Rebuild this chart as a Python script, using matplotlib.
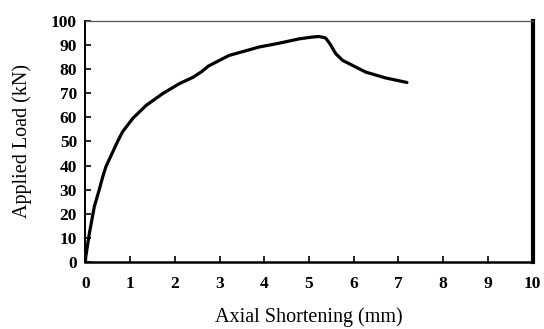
import numpy as np
import matplotlib.pyplot as plt

# axial shortening (mm) vs applied load (kN)
shortening = [0.0, 0.01, 0.09, 0.2, 0.31, 0.39, 0.46, 0.61, 0.72, 0.83, 1.06,
              1.36, 1.73, 2.1, 2.4, 2.6, 2.75, 3.21, 3.88, 4.33, 4.78, 5.05,
              5.22, 5.37, 5.47, 5.6, 5.75, 6.12, 6.27, 6.71, 7.19]
load = [0.0, 2.4, 12.0, 23.0, 30.0, 35.5, 39.6, 45.6, 50.0, 54.0, 59.6,
        65.0, 69.9, 74.0, 76.6, 79.0, 81.3, 85.7, 89.2, 90.8, 92.6, 93.3,
        93.6, 93.0, 90.5, 86.4, 83.7, 80.2, 78.8, 76.4, 74.5]

x_ticks = list(range(0, 11))
y_ticks = list(range(0, 101, 10))

plt.rcParams['font.family'] = 'Liberation Serif'

fig = plt.figure(figsize=(5.44, 3.29), dpi=100)
ax = fig.add_axes([0.157, 0.204, 0.822, 0.732])

ax.plot(shortening, load, color="black", lw=2.3, solid_capstyle="round",
        solid_joinstyle="round")

ax.set_xlim(0, 10)
ax.set_ylim(0, 100)
ax.set_xticks(x_ticks)
ax.set_yticks(y_ticks)
ax.set_xticklabels([str(v) for v in x_ticks], fontweight="bold", fontsize=12.5)
ax.set_yticklabels([str(v) for v in y_ticks], fontweight="bold", fontsize=12.5)
ax.tick_params(direction="in", length=4, width=1.2, pad=10)
ax.tick_params(axis="y", pad=6)

ax.spines["top"].set_color("#555555")
ax.spines["top"].set_linewidth(0.9)
ax.spines["right"].set_linewidth(3.0)
ax.spines["bottom"].set_linewidth(1.8)
ax.spines["left"].set_linewidth(1.4)

ax.set_xlabel("Axial Shortening (mm)", fontsize=14.5, labelpad=11)
ax.set_ylabel("Applied Load (kN)", fontsize=14.5, labelpad=14)

fig.savefig("out.png", dpi=100)
